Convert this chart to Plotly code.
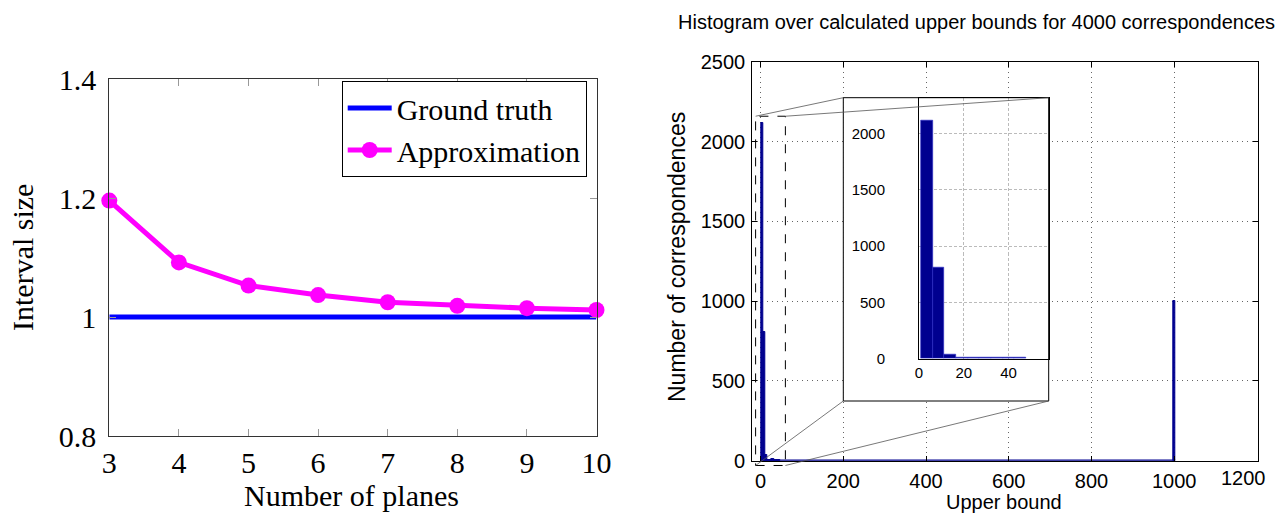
import plotly.graph_objects as go

W, H = 1279, 515

# ---------------- data ----------------
planes = [3, 4, 5, 6, 7, 8, 9, 10]
ground_truth = [1.0, 1.0, 1.0, 1.0, 1.0, 1.0, 1.0, 1.0]
approximation = [1.196, 1.092, 1.053, 1.037, 1.025, 1.019, 1.015, 1.012]
left_yticks = [0.8, 1.0, 1.2, 1.4]
left_yticklabels = ["0.8", "1", "1.2", "1.4"]

bin_centers = [3.5, 8.7, 13.9, 19.1, 24.3, 29.5, 34.7, 39.9, 45.1, 1000.0]
bin_counts = [2120, 810, 35, 6, 5, 8, 5, 5, 6, 1000]
bin_width = 5.2
hist_xticks = [0, 200, 400, 600, 800, 1000, 1200]
hist_xticklabels = ["0", "200", "400", "600", "800", "1000", "1200"]
hist_yticks = [0, 500, 1000, 1500, 2000, 2500]
inset_xticks = [0, 20, 40]
inset_yticks = [0, 500, 1000, 1500, 2000]
zoom_x = [-12, 60]
zoom_y = [-30, 2160]

NAVY = "rgb(0,0,143)"


def px_x(p):
    return p / W


def px_y(p):
    return 1 - p / H


# domains (pixels)
L_dom_x = [px_x(109.3), px_x(596.5)]
L_dom_y = [px_y(436.0), px_y(79.3)]
M_dom_x = [px_x(752.3), px_x(1257.7)]
M_dom_y = [px_y(460.7), px_y(62.0)]
I_dom_x = [px_x(919.0), px_x(1048.5)]
I_dom_y = [px_y(358.5), px_y(97.5)]
M_range_x = [-20, 1202]
M_range_y = [0, 2500]


def main_to_paper(xv, yv):
    fx = (xv - M_range_x[0]) / (M_range_x[1] - M_range_x[0])
    fy = (yv - M_range_y[0]) / (M_range_y[1] - M_range_y[0])
    return (M_dom_x[0] + fx * (M_dom_x[1] - M_dom_x[0]),
            M_dom_y[0] + fy * (M_dom_y[1] - M_dom_y[0]))


def paper_to_main(px, py):
    fx = (px - M_dom_x[0]) / (M_dom_x[1] - M_dom_x[0])
    fy = (py - M_dom_y[0]) / (M_dom_y[1] - M_dom_y[0])
    return (M_range_x[0] + fx * (M_range_x[1] - M_range_x[0]),
            M_range_y[0] + fy * (M_range_y[1] - M_range_y[0]))


fig = go.Figure()

# ---------------- left chart ----------------
fig.add_trace(go.Scatter(
    x=planes, y=ground_truth, mode="lines", name="Ground truth",
    line=dict(color="#0000FF", width=5), xaxis="x", yaxis="y", cliponaxis=False))
fig.add_trace(go.Scatter(
    x=planes, y=approximation, mode="lines+markers", name="Approximation",
    line=dict(color="#FF00FF", width=5), marker=dict(size=16, color="#FF00FF"),
    xaxis="x", yaxis="y", cliponaxis=False))

# ---------------- histogram ----------------
fig.add_trace(go.Scatter(
    x=[min(bin_centers) - bin_width / 2, max(bin_centers) + bin_width / 2], y=[0, 0],
    mode="lines", line=dict(color=NAVY, width=2.5), showlegend=False,
    xaxis="x2", yaxis="y2", hoverinfo="skip"))
fig.add_trace(go.Bar(
    x=bin_centers, y=bin_counts, width=[bin_width] * len(bin_centers),
    marker=dict(color=NAVY, line=dict(color=NAVY, width=1)),
    showlegend=False, xaxis="x2", yaxis="y2"))
fig.add_trace(go.Bar(
    x=bin_centers, y=bin_counts, width=[bin_width] * len(bin_centers),
    marker=dict(color=NAVY, line=dict(color="rgb(40,40,200)", width=0.6)),
    showlegend=False, xaxis="x3", yaxis="y3"))

serif = "Liberation Serif"
sans = "Liberation Sans"

# the last tick label of the histogram is pulled inside the figure (as in the original)
main_ticktext = hist_xticklabels[:-1] + [""]

fig.update_layout(
    width=W, height=H, margin=dict(l=0, r=0, t=0, b=0, autoexpand=False),
    paper_bgcolor="white", plot_bgcolor="rgba(0,0,0,0)",
    bargap=0,
    showlegend=True,
    legend=dict(
        x=px_x(586.7), y=px_y(81), xanchor="right", yanchor="top",
        bgcolor="white", bordercolor="black", borderwidth=1,
        font=dict(family=serif, size=30, color="black"),
        tracegroupgap=0, itemwidth=44),
    xaxis=dict(
        domain=L_dom_x, range=[3, 10], anchor="y", automargin=False,
        tickvals=planes, ticks="inside", ticklen=7, tickcolor="#999",
        showline=True, linecolor="#333", linewidth=1, mirror="ticks",
        showgrid=False, zeroline=False, ticklabeloverflow="allow",
        tickfont=dict(family=serif, size=30, color="black")),
    yaxis=dict(
        domain=L_dom_y, range=[0.8, 1.4], anchor="x", automargin=False,
        tickvals=left_yticks, ticktext=left_yticklabels,
        ticks="inside", ticklen=7, tickcolor="#999",
        showline=True, linecolor="#333", linewidth=1, mirror="ticks",
        showgrid=False, zeroline=False, ticklabelstandoff=6, ticklabeloverflow="allow",
        tickfont=dict(family=serif, size=30, color="black")),
    xaxis2=dict(
        domain=M_dom_x, range=M_range_x, anchor="y2", automargin=False,
        tickvals=hist_xticks, ticktext=main_ticktext,
        ticks="inside", ticklen=5, tickcolor="black",
        showline=True, linecolor="black", linewidth=1.2, mirror="ticks",
        showgrid=True, gridcolor="#666", griddash="1px,4px", gridwidth=1,
        zeroline=False, ticklabelstandoff=2, ticklabeloverflow="allow",
        tickfont=dict(family=sans, size=20, color="black")),
    yaxis2=dict(
        domain=M_dom_y, range=M_range_y, anchor="x2", automargin=False,
        tickvals=hist_yticks, ticks="inside", ticklen=5, tickcolor="black",
        showline=True, linecolor="black", linewidth=1.2, mirror="ticks",
        showgrid=True, gridcolor="#666", griddash="1px,4px", gridwidth=1,
        zeroline=False, ticklabelstandoff=2, ticklabeloverflow="allow",
        tickfont=dict(family=sans, size=20, color="black")),
    xaxis3=dict(
        domain=I_dom_x, range=[0, 57.8], anchor="y3", automargin=False,
        tickvals=inset_xticks, ticks="", showline=True, linecolor="black",
        linewidth=1, mirror=True, showgrid=True, gridcolor="#bbb",
        griddash="3px,2px", gridwidth=1, zeroline=False, ticklabelstandoff=0,
        ticklabeloverflow="allow",
        tickfont=dict(family=sans, size=15, color="black")),
    yaxis3=dict(
        domain=I_dom_y, range=[0, 2320], anchor="x3", automargin=False,
        tickvals=inset_yticks, ticks="", showline=True, linecolor="black",
        linewidth=1, mirror=True, showgrid=True, gridcolor="#bbb",
        griddash="3px,2px", gridwidth=1, zeroline=False, ticklabelstandoff=30,
        ticklabeloverflow="allow",
        tickfont=dict(family=sans, size=15, color="black")),
)

# inset white background (covers main grid) and frame
ib_x0, ib_x1 = px_x(843.3), px_x(1048.7)
ib_y0, ib_y1 = px_y(401.0), px_y(97.7)
dx0, dy0 = paper_to_main(ib_x0, ib_y0)
dx1, dy1 = paper_to_main(ib_x1, ib_y1)
bx0, by0 = main_to_paper(zoom_x[0], zoom_y[0])
bx1, by1 = main_to_paper(zoom_x[1], zoom_y[1])

shapes = [
    dict(type="rect", xref="x2", yref="y2", x0=dx0, x1=dx1, y0=dy0, y1=dy1,
         fillcolor="white", line=dict(width=0), layer="between"),
    dict(type="rect", xref="paper", yref="paper", x0=ib_x0, x1=ib_x1, y0=ib_y0, y1=ib_y1,
         line=dict(color="black", width=1), layer="above"),
    dict(type="rect", xref="paper", yref="paper", x0=bx0, x1=bx1, y0=by0, y1=by1,
         line=dict(color="black", width=1, dash="dash"), layer="above"),
    dict(type="line", xref="paper", yref="paper", x0=bx0, y0=by1, x1=ib_x0, y1=ib_y1,
         line=dict(color="#555", width=0.8), layer="above"),
    dict(type="line", xref="paper", yref="paper", x0=bx1, y0=by1, x1=ib_x1, y1=ib_y1,
         line=dict(color="#555", width=0.8), layer="above"),
    dict(type="line", xref="paper", yref="paper", x0=bx0, y0=by0, x1=ib_x0, y1=ib_y0,
         line=dict(color="#555", width=0.8), layer="above"),
    dict(type="line", xref="paper", yref="paper", x0=bx1, y0=by0, x1=ib_x1, y1=ib_y0,
         line=dict(color="#555", width=0.8), layer="above"),
]
fig.update_layout(shapes=shapes)

annotations = [
    dict(text="Number of planes", x=px_x(352), y=px_y(495), xref="paper", yref="paper",
         showarrow=False, xanchor="center", yanchor="middle",
         font=dict(family=serif, size=30, color="black")),
    dict(text="Interval size", x=px_x(22), y=px_y(258), xref="paper", yref="paper",
         showarrow=False, xanchor="center", yanchor="middle", textangle=-90,
         font=dict(family=serif, size=30, color="black")),
    dict(text="Upper bound", x=px_x(1004), y=px_y(502), xref="paper", yref="paper",
         showarrow=False, xanchor="center", yanchor="middle",
         font=dict(family=sans, size=20, color="black")),
    dict(text="Number of correspondences", x=px_x(677), y=px_y(257), xref="paper", yref="paper",
         showarrow=False, xanchor="center", yanchor="middle", textangle=-90,
         font=dict(family=sans, size=23, color="black")),
    dict(text="Histogram over calculated upper bounds for 4000 correspondences",
         x=px_x(676), y=px_y(22), xref="paper", yref="paper",
         showarrow=False, xanchor="left", yanchor="middle",
         font=dict(family=sans, size=20, color="black")),
    dict(text=hist_xticklabels[-1], x=px_x(1243), y=px_y(478), xref="paper", yref="paper",
         showarrow=False, xanchor="center", yanchor="middle",
         font=dict(family=sans, size=20, color="black")),
]
fig.update_layout(annotations=annotations)

fig.write_html("out.html")
